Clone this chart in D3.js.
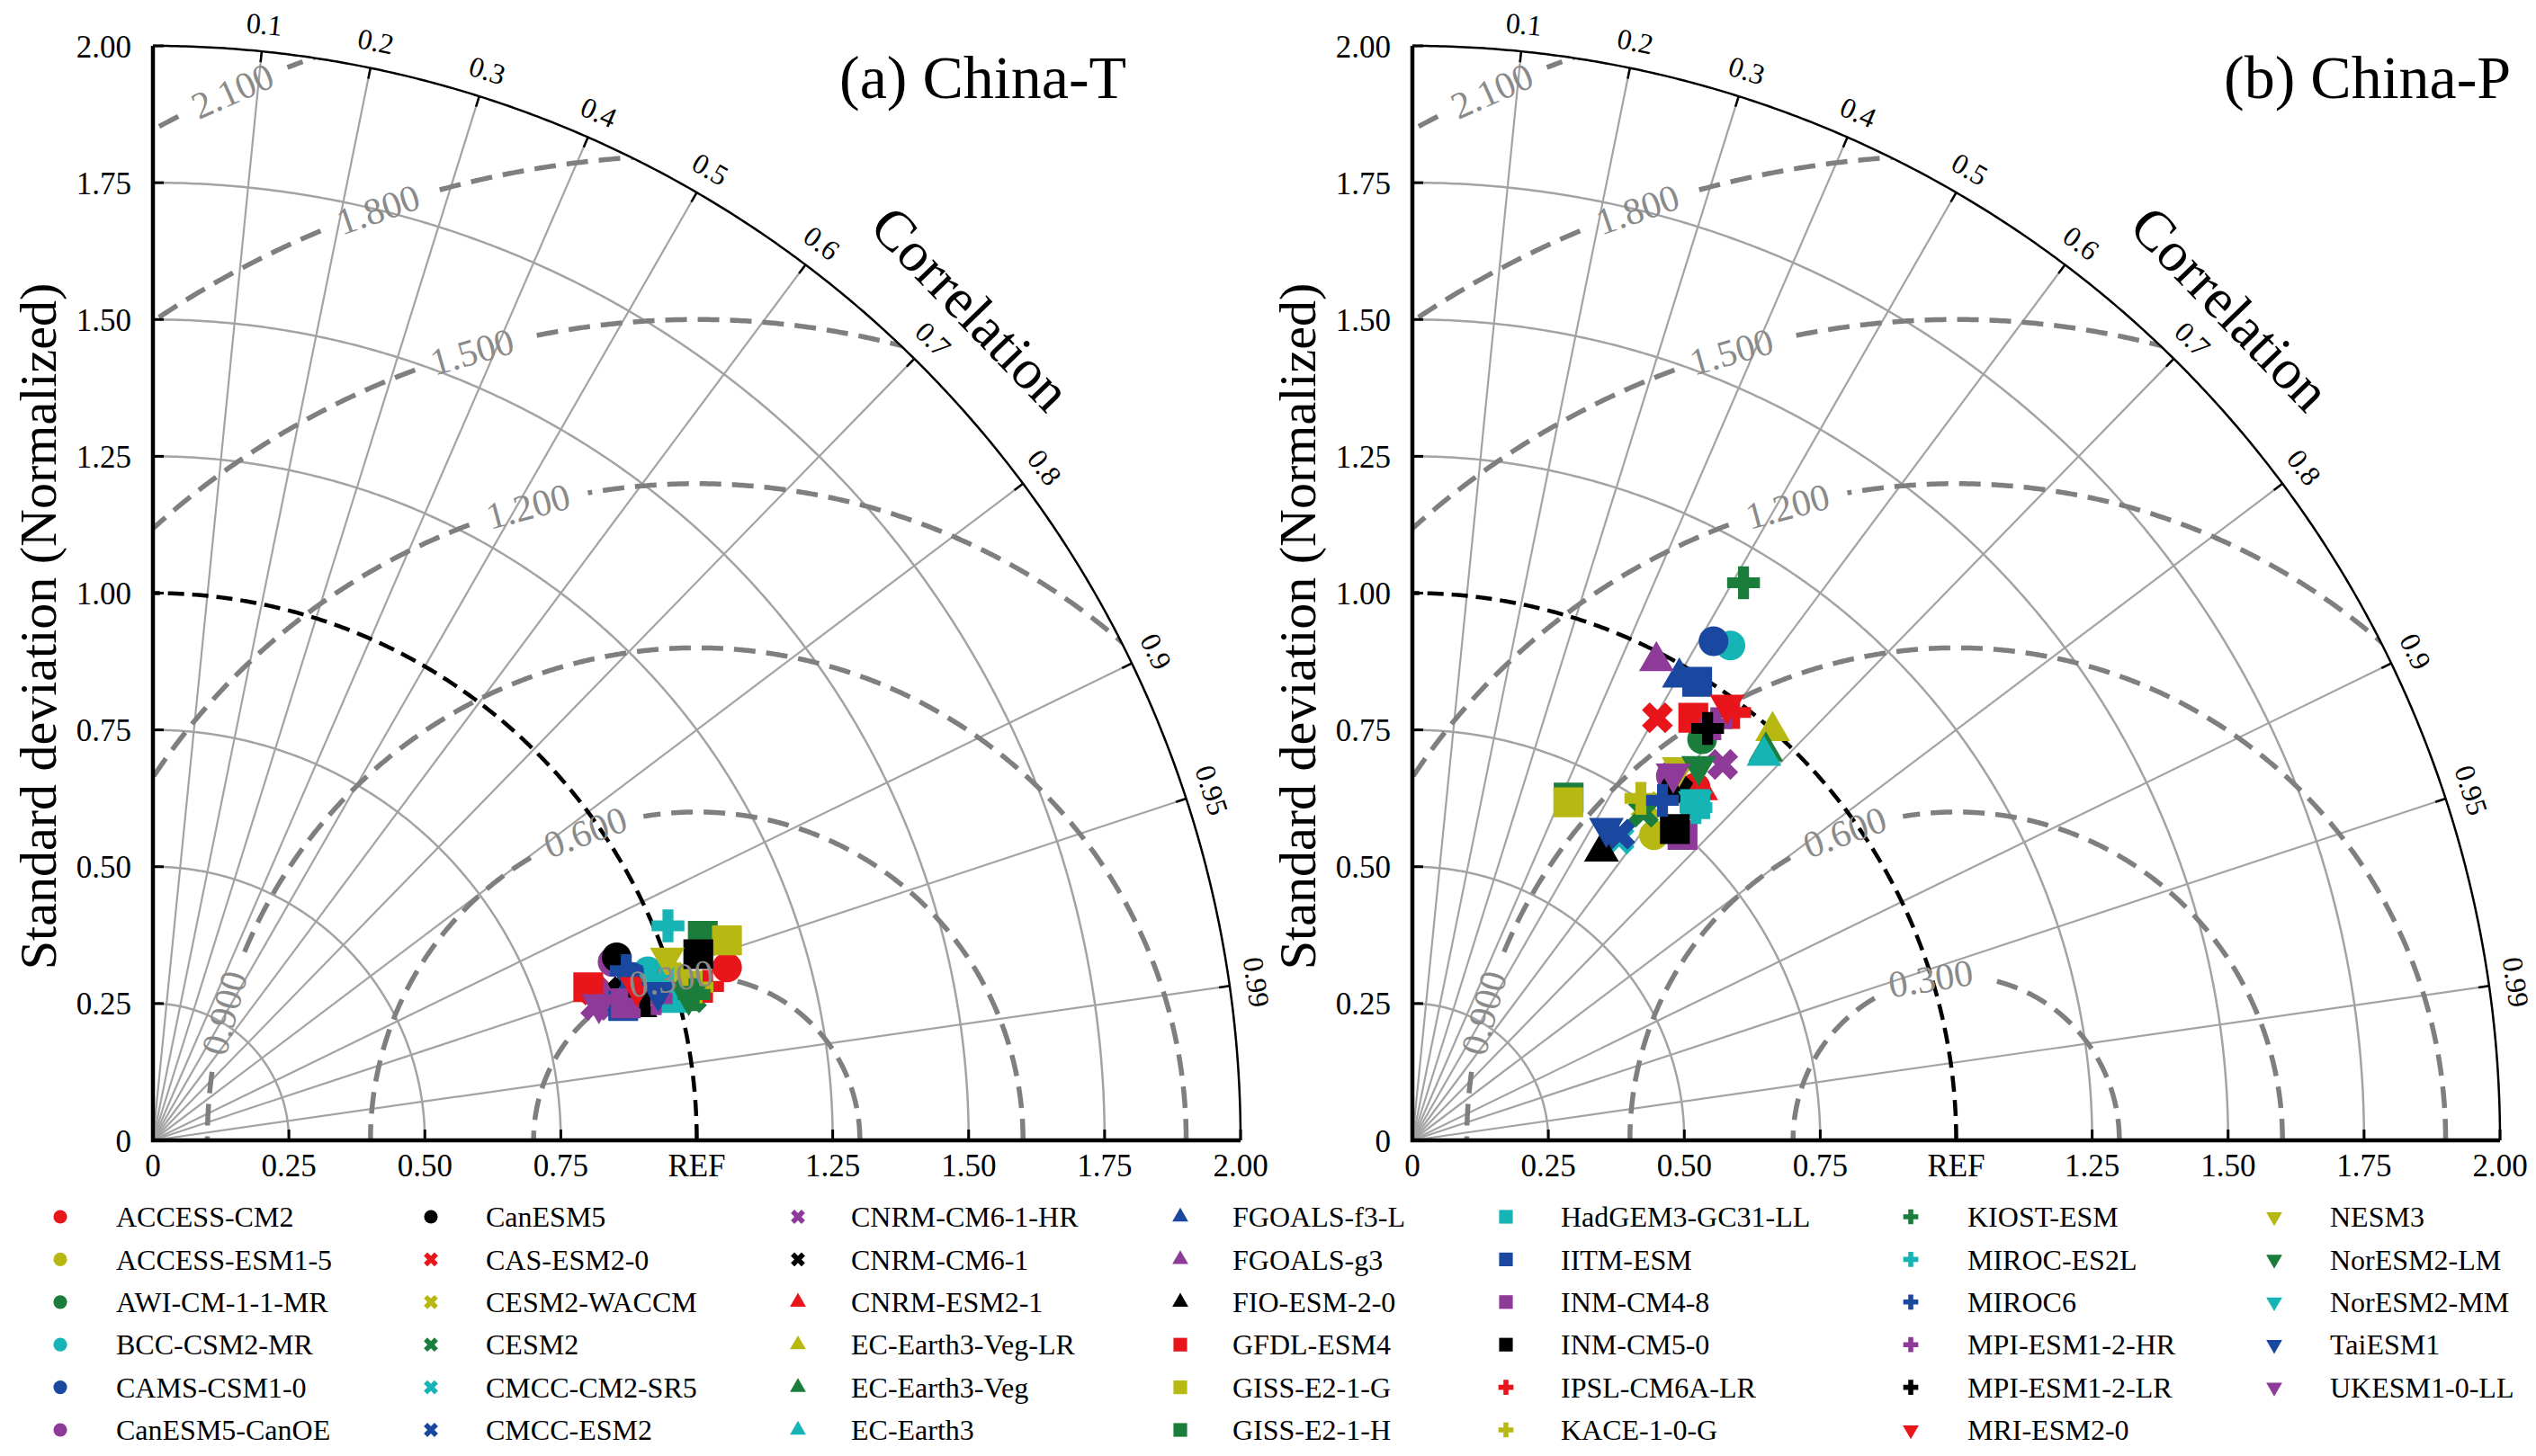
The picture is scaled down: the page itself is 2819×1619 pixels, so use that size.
<!DOCTYPE html>
<html>
<head>
<meta charset="utf-8">
<script src="https://cdn.jsdelivr.net/npm/d3@7"></script>
<style>
  body { margin: 0; background: #fff; }
  text { font-family: "Liberation Serif", "Times New Roman", serif; }
</style>
</head>
<body>
<div id="wrapper"></div>
<script>
// data
const models = [
  "ACCESS-CM2", "ACCESS-ESM1-5", "AWI-CM-1-1-MR", "BCC-CSM2-MR", "CAMS-CSM1-0", "CanESM5-CanOE",
  "CanESM5", "CAS-ESM2-0", "CESM2-WACCM", "CESM2", "CMCC-CM2-SR5", "CMCC-ESM2",
  "CNRM-CM6-1-HR", "CNRM-CM6-1", "CNRM-ESM2-1", "EC-Earth3-Veg-LR", "EC-Earth3-Veg", "EC-Earth3",
  "FGOALS-f3-L", "FGOALS-g3", "FIO-ESM-2-0", "GFDL-ESM4", "GISS-E2-1-G", "GISS-E2-1-H",
  "HadGEM3-GC31-LL", "IITM-ESM", "INM-CM4-8", "INM-CM5-0", "IPSL-CM6A-LR", "KACE-1-0-G",
  "KIOST-ESM", "MIROC-ES2L", "MIROC6", "MPI-ESM1-2-HR", "MPI-ESM1-2-LR", "MRI-ESM2-0",
  "NESM3", "NorESM2-LM", "NorESM2-MM", "TaiESM1", "UKESM1-0-LL"
]

// (a) China-T : normalized standard deviation and correlation
const stdT = [1.102, 1.006, 1.026, 0.961, 0.930, 0.906, 0.916, 0.855, 1.023, 1.024, 0.981, 0.946, 0.851, 0.879,
  0.929, 1.012, 0.999, 0.987, 0.902, 0.870, 0.928, 0.848, 1.117, 1.078, 0.977, 0.899, 0.905, 1.059,
  1.058, 1.039, 1.030, 1.025, 0.924, 0.961, 0.944, 0.933, 1.003, 1.020, 0.968, 0.968, 0.857]
const corT = [0.958, 0.955, 0.965, 0.947, 0.947, 0.933, 0.931, 0.947, 0.963, 0.967, 0.958, 0.952, 0.957, 0.951,
  0.958, 0.958, 0.966, 0.967, 0.959, 0.954, 0.965, 0.944, 0.945, 0.938, 0.952, 0.962, 0.961, 0.947,
  0.964, 0.963, 0.966, 0.924, 0.942, 0.963, 0.958, 0.954, 0.943, 0.966, 0.956, 0.960, 0.957]

// (b) China-P
const stdP = [0.829, 0.713, 0.906, 1.077, 1.067, 0.818, 0.804, 0.894, 0.746, 0.735, 0.669, 0.677, 0.893, 0.821,
  0.831, 0.999, 0.963, 0.955, 0.978, 0.984, 0.632, 0.929, 0.681, 0.689, 0.805, 0.988, 0.747, 0.746,
  0.981, 0.753, 1.187, 0.801, 0.773, 0.944, 0.928, 0.984, 0.840, 0.863, 0.809, 0.673, 0.824]
const corP = [0.628, 0.623, 0.588, 0.543, 0.519, 0.581, 0.601, 0.504, 0.576, 0.578, 0.568, 0.563, 0.639, 0.629,
  0.638, 0.663, 0.675, 0.677, 0.502, 0.456, 0.550, 0.556, 0.421, 0.417, 0.646, 0.530, 0.665, 0.647,
  0.604, 0.558, 0.513, 0.651, 0.595, 0.591, 0.585, 0.588, 0.584, 0.610, 0.643, 0.530, 0.582]

const panelTitles = ["(a) China-T", "(b) China-P"]
const corrTicks = [0.1, 0.2, 0.3, 0.4, 0.5, 0.6, 0.7, 0.8, 0.9, 0.95, 0.99]
const corrTickLabels = ["0.1", "0.2", "0.3", "0.4", "0.5", "0.6", "0.7", "0.8", "0.9", "0.95", "0.99"]
const stdTicks = [0, 0.25, 0.5, 0.75, 1, 1.25, 1.5, 1.75, 2]
const yTickLabels = ["0", "0.25", "0.50", "0.75", "1.00", "1.25", "1.50", "1.75", "2.00"]
const xTickLabels = ["0", "0.25", "0.50", "0.75", "REF", "1.25", "1.50", "1.75", "2.00"]
const stdGrid = [0.25, 0.5, 0.75, 1.25, 1.5, 1.75]
const rmsLevels = [0.3, 0.6, 0.9, 1.2, 1.5, 1.8, 2.1]
const rmsLabels = ["0.300", "0.600", "0.900", "1.200", "1.500", "1.800", "2.100"]

// styles
const colors = ["#e8161b", "#b8b812", "#1a7d3b", "#16b4b4", "#1a479f", "#8e3a98", "#000000"]
const shapeTypes = [d3.symbolCircle, d3.symbolCross, d3.symbolTriangle, d3.symbolSquare, d3.symbolCross, d3.symbolTriangle]
const shapeRotate = [0, 45, 0, 0, 0, 180]
const shapeSize = [860, 740, 650, 1100, 740, 650]
const rmsLabelAngle = [99, 110, 165, 105, 106, 109, 114]

function drawChart() {
  const dimensions = {
    width: 2819,
    height: 1619,
    originY: 1268,
    topY: 51,
    panels: [
      {left: 170, right: 1379, titleX: 933},
      {left: 1570, right: 2779, titleX: 2472}
    ]
  }

  const wrapper = d3.select("#wrapper")
    .append("svg")
      .attr("width", dimensions.width)
      .attr("height", dimensions.height)

  wrapper.append("rect")
    .attr("width", dimensions.width)
    .attr("height", dimensions.height)
    .attr("fill", "#fff")

  const series = [[stdT, corT], [stdP, corP]]
  series.forEach((s, i) => drawPanel(wrapper, dimensions, dimensions.panels[i], i, s[0], s[1]))

  drawLegend(wrapper)
}

function drawPanel(wrapper, dimensions, pd, idx, stds, cors) {
  const g = wrapper.append("g")

  const xScale = d3.scaleLinear().domain([0, 2]).range([pd.left, pd.right])
  const yScale = d3.scaleLinear().domain([0, 2]).range([dimensions.originY, dimensions.topY])
  const line = d3.line().x(d => xScale(d[0])).y(d => yScale(d[1]))
  const polar = (r, a) => [r * Math.cos(a), r * Math.sin(a)]
  const rad = deg => deg * Math.PI / 180
  const quarter = d3.range(0, 90.001, 0.25).map(rad)

  // clip to quarter disc
  const clipId = "quarter" + idx
  g.append("clipPath").attr("id", clipId)
    .append("path")
      .attr("d", line([[0, 0], ...quarter.map(a => polar(2, a)), [0, 0]]) + "Z")

  // std grid arcs
  g.selectAll(".std-arc")
    .data(stdGrid)
    .enter().append("path")
      .attr("d", s => line(quarter.map(a => polar(s, a))))
      .attr("fill", "none")
      .attr("stroke", "#a3a3a3")
      .attr("stroke-width", 2.5)

  // correlation rays
  g.selectAll(".ray")
    .data(corrTicks)
    .enter().append("path")
      .attr("d", c => line([[0, 0], polar(2, Math.acos(c))]))
      .attr("stroke", "#a3a3a3")
      .attr("stroke-width", 2.2)

  // RMS circles
  const half = d3.range(0, 180.001, 0.2).map(rad)
  rmsLevels.forEach((r, k) => {
    const la = rad(rmsLabelAngle[k])
    const gapHalf = 66 / (r * 605)
    const arcLine = d3.line()
      .defined(a => Math.abs(a - la) > gapHalf)
      .x(a => xScale(1 + r * Math.cos(a)))
      .y(a => yScale(r * Math.sin(a)))
    g.append("path")
      .attr("clip-path", `url(#${clipId})`)
      .attr("d", arcLine(half))
      .attr("fill", "none")
      .attr("stroke", "#7f7f7f")
      .attr("stroke-width", 5.5)
      .attr("stroke-dasharray", "24,12")
  })

  // REF circle
  g.append("path")
    .attr("d", line(quarter.map(a => polar(1, a))))
    .attr("fill", "none")
    .attr("stroke", "#000")
    .attr("stroke-width", 4.5)
    .attr("stroke-dasharray", "18,9")

  // outer arc and axes
  g.append("path")
    .attr("d", line(quarter.map(a => polar(2, a))))
    .attr("fill", "none")
    .attr("stroke", "#000")
    .attr("stroke-width", 2.5)
  g.append("path")
    .attr("d", line([[0, 2], [0, 0], [2, 0]]))
    .attr("fill", "none")
    .attr("stroke", "#000")
    .attr("stroke-width", 4.5)

  // axis ticks and labels
  const tickLen = 12
  g.selectAll(".xtick")
    .data(stdTicks)
    .enter().append("line")
      .attr("x1", v => xScale(v)).attr("x2", v => xScale(v))
      .attr("y1", dimensions.originY).attr("y2", dimensions.originY - tickLen)
      .attr("stroke", "#000").attr("stroke-width", 3)
  g.selectAll(".ytick")
    .data(stdTicks)
    .enter().append("line")
      .attr("x1", pd.left).attr("x2", pd.left + tickLen)
      .attr("y1", v => yScale(v)).attr("y2", v => yScale(v))
      .attr("stroke", "#000").attr("stroke-width", 3)

  g.selectAll(".xlabel")
    .data(stdTicks)
    .enter().append("text")
      .attr("x", v => xScale(v))
      .attr("y", dimensions.originY + 40)
      .attr("text-anchor", "middle")
      .attr("font-size", 35)
      .text((v, i) => xTickLabels[i])
  g.selectAll(".ylabel")
    .data(stdTicks)
    .enter().append("text")
      .attr("x", pd.left - 24)
      .attr("y", v => yScale(v))
      .attr("dy", "0.36em")
      .attr("text-anchor", "end")
      .attr("font-size", 35)
      .text((v, i) => yTickLabels[i])

  // correlation ticks on arc
  const inner = 2 - tickLen / 605
  g.selectAll(".ctick")
    .data(corrTicks)
    .enter().append("path")
      .attr("d", c => line([polar(2, Math.acos(c)), polar(inner, Math.acos(c))]))
      .attr("stroke", "#000")
      .attr("stroke-width", 2.5)
  g.selectAll(".clabel")
    .data(corrTicks)
    .enter().append("text")
      .attr("transform", c => {
        const a = Math.acos(c)
        const p = polar(2.05, a)
        return `translate(${xScale(p[0])},${yScale(p[1])}) rotate(${90 - a * 180 / Math.PI})`
      })
      .attr("text-anchor", "middle")
      .attr("dy", "0.35em")
      .attr("font-size", 32)
      .text((c, i) => corrTickLabels[i])

  // axis titles
  g.append("text")
    .attr("transform", `translate(${pd.left - 108},${(dimensions.originY + dimensions.topY) / 2 + 37}) rotate(-90)`)
    .attr("text-anchor", "middle")
    .attr("font-size", 58)
    .text("Standard deviation (Normalized)")

  const cp = polar(2.14, rad(45.3))
  g.append("text")
    .attr("transform", `translate(${xScale(cp[0])},${yScale(cp[1])}) rotate(46)`)
    .attr("text-anchor", "middle")
    .attr("dy", "0.35em")
    .attr("font-size", 63)
    .text("Correlation")

  g.append("text")
    .attr("x", pd.titleX)
    .attr("y", 109)
    .attr("font-size", 68)
    .text(panelTitles[idx])

  // models
  const symbol = d3.symbol()
  const markers = g.append("g")
  markers.selectAll("path")
    .data(models)
    .enter().append("path")
      .attr("transform", (d, i) => {
        const a = Math.acos(cors[i])
        const p = polar(stds[i], a)
        return `translate(${xScale(p[0])},${yScale(p[1])}) rotate(${shapeRotate[Math.floor(i / 7)]})`
      })
      .attr("d", (d, i) => symbol.type(shapeTypes[Math.floor(i / 7)]).size(shapeSize[Math.floor(i / 7)])())
      .attr("fill", (d, i) => colors[i % 7])
  // GISS-E2-1-H sits under GISS-E2-1-G in the original
  markers.selectAll("path").filter(d => d === "GISS-E2-1-H").lower()

  // RMS labels on top
  rmsLevels.forEach((r, k) => {
    const la = rad(rmsLabelAngle[k])
    g.append("text")
      .attr("transform", `translate(${xScale(1 + r * Math.cos(la))},${yScale(r * Math.sin(la))}) rotate(${90 - rmsLabelAngle[k]})`)
      .attr("text-anchor", "middle")
      .attr("dy", "0.35em")
      .attr("font-size", 42)
      .attr("fill", "#8a8a8a")
      .text(rmsLabels[k])
  })
}

function drawLegend(wrapper) {
  const markerX = [67, 479, 887, 1312, 1674, 2124, 2528]
  const textX = [129, 540, 946, 1370, 1735, 2187, 2590]
  const rowY = d3.scaleLinear().domain([0, 5]).range([1353, 1590])
  const symbol = d3.symbol()

  const items = wrapper.append("g").selectAll("g")
    .data(models)
    .enter().append("g")

  items.append("path")
    .attr("transform", (d, i) => `translate(${markerX[Math.floor(i / 6)]},${rowY(i % 6)}) rotate(${shapeRotate[Math.floor(i / 7)]})`)
    .attr("d", (d, i) => symbol.type(shapeTypes[Math.floor(i / 7)]).size(shapeSize[Math.floor(i / 7)] * 0.21)())
    .attr("fill", (d, i) => colors[i % 7])

  items.append("text")
    .attr("x", (d, i) => textX[Math.floor(i / 6)])
    .attr("y", (d, i) => rowY(i % 6))
    .attr("dy", "0.35em")
    .attr("font-size", 32)
    .text(d => d)
}

drawChart()
</script>
</body>
</html>
